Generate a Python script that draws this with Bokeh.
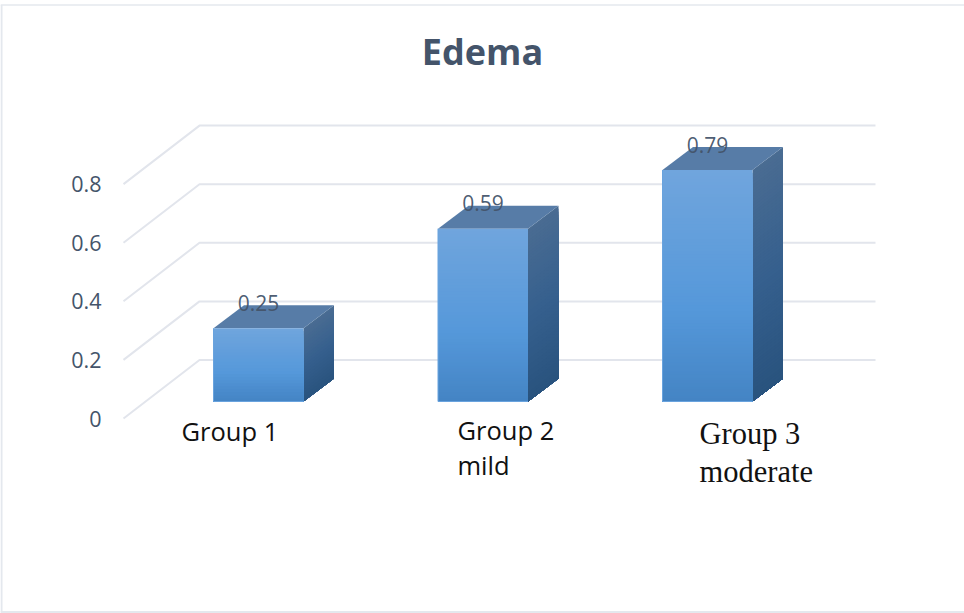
from bokeh.plotting import figure
from bokeh.models import Range1d, FixedTicker
from bokeh.core.properties import value
from bokeh.embed import file_html
from bokeh.resources import INLINE

# ---- data ----
title = "Edema"
categories = ["Group 1", "Group 2\nmild", "Group 3\nmoderate"]
values = [0.25, 0.59, 0.79]
value_labels = ["0.25", "0.59", "0.79"]
y_ticks = [0, 0.2, 0.4, 0.6, 0.8]
y_tick_labels = {0: "0", 0.2: "0.2", 0.4: "0.4", 0.6: "0.6", 0.8: "0.8"}

# ---- page geometry (pixels) ----
W, H = 964, 613
UX = 224.5        # pixels between categories
UY = 293.0        # pixels per unit of value
X0 = 258.0        # pixel of first category
Y0 = 418.0        # pixel of value 0 on the front edge of the floor


def dx(pixels):
    return pixels / UX


def dy(pixels):
    return pixels / UY


def hexmix(stops, t):
    for (t0, c0), (t1, c1) in zip(stops, stops[1:]):
        if t <= t1:
            f = (t - t0) / (t1 - t0) if t1 > t0 else 0
            rgb = [round(c0[i] + (c1[i] - c0[i]) * f) for i in range(3)]
            return "#%02x%02x%02x" % tuple(rgb)
    return "#%02x%02x%02x" % tuple(stops[-1][1])


p = figure(
    width=W, height=H, output_backend="svg", toolbar_location=None,
    x_range=Range1d(dx(-X0), dx(W - X0)),
    y_range=Range1d(dy(Y0 - H), dy(Y0)),
    min_border=0, min_border_left=0, min_border_right=0,
    min_border_top=0, min_border_bottom=0,
    background_fill_color="white", border_fill_color="white",
    outline_line_color=None,
)
p.styles = {"position": "absolute", "left": "0px", "top": "0px"}
p.xaxis.visible = False
p.grid.visible = False

# outer chart border
BORDER = "#e4e8ee"
x_px = lambda px: dx(px - X0)
y_px = lambda px: dy(Y0 - px)
p.segment([x_px(1), x_px(0)], [y_px(4.5), y_px(611.5)], [x_px(1), x_px(W)], [y_px(612), y_px(611.5)],
          line_color=BORDER, line_width=2)
p.segment([x_px(0)], [y_px(4.5)], [x_px(W)], [y_px(4.5)], line_color=BORDER, line_width=1.5)

# y axis, placed inside the frame
yaxis = p.yaxis[0]
yaxis.fixed_location = x_px(113)
yaxis.ticker = FixedTicker(ticks=y_ticks)
yaxis.major_label_overrides = y_tick_labels
yaxis.axis_line_color = None
yaxis.major_tick_line_color = None
yaxis.minor_tick_line_color = None
yaxis.major_label_standoff = 6
yaxis.major_label_text_font = "Open Sans"
yaxis.major_label_text_font_size = "21.5px"
yaxis.major_label_text_color = "#44546a"

# 3-D wall grid
GRID = "#e2e5ec"
WALL_DX, WALL_DY = dx(76), dy(58.5)
LEFT, RIGHT = x_px(123), x_px(875)
p.multi_line(
    xs=[[LEFT, LEFT + WALL_DX, RIGHT] for _ in y_ticks],
    ys=[[t, t + WALL_DY, t + WALL_DY] for t in y_ticks],
    line_color=GRID, line_width=2,
)

# bars
BAR_W = dx(90)
DEPTH_X, DEPTH_Y = dx(30.5), dy(23)
BASE = dy(17)          # bar base lies this far into the floor
FRONT = [(0, (0x70, 0xa5, 0xdd)), (0.6, (0x55, 0x98, 0xda)), (1, (0x44, 0x84, 0xc4))]
SIDE = [(0, (0x4a, 0x6c, 0x92)), (0.5, (0x36, 0x60, 0x8e)), (1, (0x29, 0x53, 0x7e))]
TOP = [(0, (0x5c, 0x80, 0xab)), (1, (0x50, 0x75, 0xa0))]
STEP = dy(3)

fx, fy, fc, sx, sy, sc, tx, ty, tc = [], [], [], [], [], [], [], [], []
for i, v in enumerate(values):
    l, r = i - BAR_W / 2, i + BAR_W / 2
    b, t = BASE, BASE + v
    n = max(1, round((t - b) / STEP))
    # Gradient bands are painted top-down, each reaching to the base, so no seams show.
    for k in range(n):
        y1 = t - (t - b) * k / n
        fx.append([l, r, r, l])
        fy.append([b, b, y1, y1])
        fc.append(hexmix(FRONT, (k + 0.5) / n))
        sx.append([r, r + DEPTH_X, r + DEPTH_X, r])
        sy.append([b, b + DEPTH_Y, y1 + DEPTH_Y, y1])
        sc.append(hexmix(SIDE, (k + 0.5) / n))
    tx.append([l, r, r + DEPTH_X, l + DEPTH_X])
    ty.append([t, t, t + DEPTH_Y, t + DEPTH_Y])
    tc.append(hexmix(TOP, 0.4))

p.patches(sx, sy, fill_color=sc, line_color=None)
p.patches(tx, ty, fill_color=tc, line_color=None)
p.patches(fx, fy, fill_color=fc, line_color=None)
p.multi_line(
    xs=[[i - BAR_W / 2, i - BAR_W / 2, i + BAR_W / 2] for i in range(len(values))],
    ys=[[BASE + v, BASE, BASE] for v in values],
    line_color="#69a3de", line_width=1,
)

# value labels
p.text(
    x=list(range(len(values))), y=[BASE + v for v in values], text=value_labels,
    x_offset=0, y_offset=-25.5, text_align="center", text_baseline="alphabetic",
    text_font=value("Open Sans"), text_font_size="21px", text_color="#44546a",
    text_alpha=0.95,
)

# category labels: each with its own left edge, line by line
LABEL_X = [181, 457, 699]
LABEL_Y = [[430], [429, 464], [433, 471]]
LABEL_FONT = ["Open Sans", "Open Sans", "Liberation Serif"]
LABEL_SIZE = ["25.5px", "25.5px", "30.5px"]
for x, ys, font, size, cat in zip(LABEL_X, LABEL_Y, LABEL_FONT, LABEL_SIZE, categories):
    lines = cat.split("\n")
    p.text(
        x=[x_px(x)] * len(lines), y=[y_px(yy) for yy in ys], text=lines,
        text_align="left", text_baseline="alphabetic",
        text_font=value(font), text_font_size=size, text_color="#111111",
    )

# title
p.text(
    x=[x_px(482)], y=[y_px(51)], text=[title], text_align="center", text_baseline="alphabetic",
    text_font=value("Open Sans"), text_font_style="bold", text_font_size="36px", text_color="#44546a",
)

open("out.html", "w").write(file_html(p, INLINE))
